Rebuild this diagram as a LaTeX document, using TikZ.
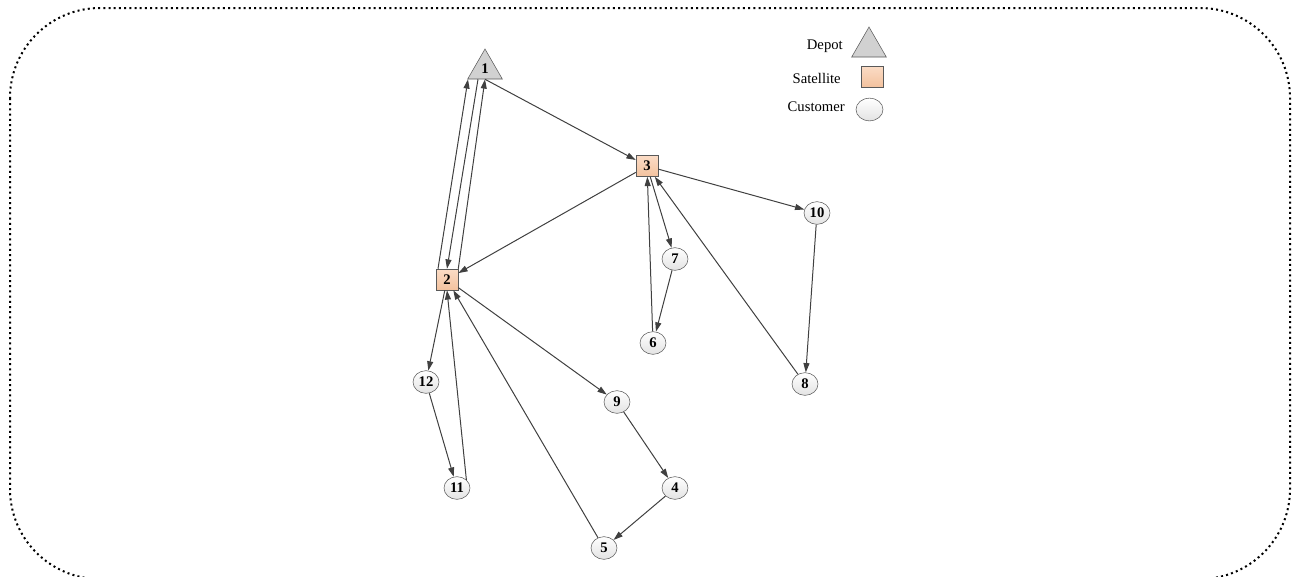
\documentclass[tikz,border=0pt]{standalone}
\usepackage{fontspec}
\setmainfont{Liberation Serif}
\usepackage{tikz}
\usetikzlibrary{positioning, shapes.geometric, arrows.meta}
\definecolor{edgegray}{HTML}{404040}
\definecolor{rimgray}{HTML}{595959}
\definecolor{peachtop}{HTML}{FBDCC6}
\definecolor{peachbot}{HTML}{F3C29E}
\tikzset{
	every text node part/.style= {
		align=center
	},
	num/.style= {
		font=\fontsize{11}{13}\selectfont\bfseries
	},
	depot/.style= {
		regular polygon,
		regular polygon sides=3,
		minimum size=30pt,
		inner sep=0pt,
		draw=rimgray,
		fill=black!18,
		num
	},
	satellite/.style= {
		rectangle,
		minimum width=16.5pt,
		minimum height=15.75pt,
		inner sep=0pt,
		draw=rimgray,
		top color=peachtop,
		bottom color=peachbot,
		num
	},
	customer/.style= {
		ellipse,
		minimum width=19.5pt,
		minimum height=17pt,
		inner sep=0pt,
		draw=rimgray,
		top color=white,
		bottom color=black!11,
		num
	},
	legtext/.style= {
		font=\fontsize{11}{13}\selectfont,
		anchor=east,
		inner sep=0pt
	},
	route/.style= {
		->,
		edgegray,
		line width=0.75pt
	}
}

\begin{document}
\begin{tikzpicture}[x=0.75pt, y=-0.75pt, >={Triangle[length=7pt, width=4.5pt]}]

	\useasboundingbox (0,0) rectangle (1293,576);
	\draw[line width=1.5pt, dash pattern=on 1.5pt off 2.4pt, rounded corners=67.5pt] (10,8) rectangle (1290,579);

	\node (depot1)[depot] at (485,69) {\raisebox{-2pt}{1}};
	\node (sat3)[satellite] at (647,166) {3};
	\node (sat2)[satellite] at (447,279.5) {2};

	\foreach \n/\x/\y in {4/675/488, 5/604/548, 6/653/343, 7/675/259, 8/805/384, 9/617/402, 10/817/213, 11/457/488, 12/426/382}
	{
		\node (cust\n)[customer] at (\x,\y) {\n};
	}

	% legend
	\node (legdepot)[depot] at (869,47) {};
	\node (legsat)[satellite] at (872,76.5) {};
	\node (legcust)[customer, minimum width=20.25pt] at (869.5,109.5) {};
	\node (txtdepot)[legtext] at (843,46) {Depot};
	\node (txtsat)[legtext] at (841,78) {Satellite};
	\node (txtcust)[legtext] at (845,107) {Customer};

	\draw[route] (depot1.south) to (sat3);
	\draw[route] ([xshift=-6.75pt]sat2.north) to ([xshift=-12.75pt]depot1.south);
	\draw[route] ([xshift=-5.25pt]depot1.south) to (sat2.north);
	\draw[route] (sat2.north east) to (depot1.south);
	\draw[route] (cust11.north east) to (sat2.south);

	\foreach \a/\b in {sat3/sat2, sat3/cust10, sat3/cust7, cust7/cust6, cust6/sat3, cust10/cust8, cust8/sat3, sat2/cust12, cust12/cust11, cust5/sat2, sat2/cust9, cust9/cust4, cust4/cust5}
	{
		\draw[route] (\a) to (\b);
	}

\end{tikzpicture}
\end{document}
